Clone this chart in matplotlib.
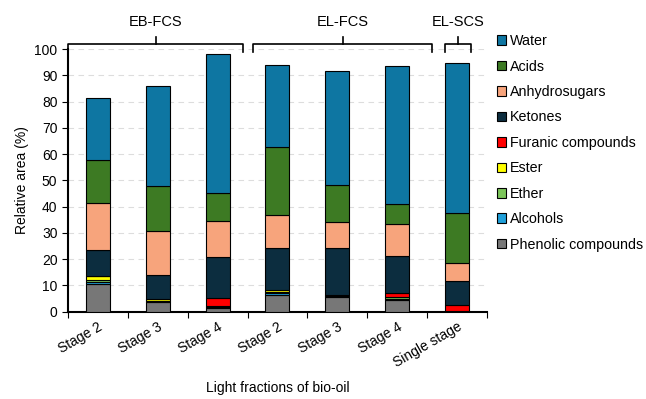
import matplotlib
matplotlib.use("Agg")
import matplotlib.pyplot as plt
import numpy as np

plt.rcParams['font.family'] = ['Liberation Sans', 'DejaVu Sans']

categories = ['Stage 2', 'Stage 3', 'Stage 4', 'Stage 2', 'Stage 3', 'Stage 4', 'Single stage']

# stacked from bottom to top
phenolic = [10.4, 3.6, 1.3, 6.5, 5.6, 4.3, 0.3]
alcohols = [0.9, 0.3, 0.5, 0.6, 0.3, 0.6, 0.0]
ether = [0.6, 0.2, 0.4, 0.3, 0.3, 0.5, 0.0]
ester = [1.6, 0.6, 0.0, 0.7, 0.3, 0.0, 0.0]
furanic = [0.0, 0.0, 2.8, 0.0, 0.0, 1.7, 2.3]
ketones = [9.8, 9.3, 15.8, 16.2, 17.6, 13.9, 9.2]
anhydro = [17.9, 16.6, 13.8, 12.4, 9.9, 12.2, 6.6]
acids = [16.5, 17.1, 10.6, 26.1, 14.2, 7.8, 19.1]
water = [23.8, 38.2, 53.0, 31.2, 43.6, 52.5, 57.3]

series = [
    ('Phenolic compounds', phenolic, '#777777'),
    ('Alcohols', alcohols, '#1f9fd9'),
    ('Ether', ether, '#7cc55a'),
    ('Ester', ester, '#ffff00'),
    ('Furanic compounds', furanic, '#ff0000'),
    ('Ketones', ketones, '#0c2d3f'),
    ('Anhydrosugars', anhydro, '#f7a47c'),
    ('Acids', acids, '#3d7a23'),
    ('Water', water, '#0e76a2'),
]

groups = [('EB-FCS', -0.5, 2.43), ('EL-FCS', 2.6, 5.58), ('EL-SCS', 5.8, 6.23)]

fig = plt.figure(figsize=(6.46, 3.99), dpi=100)
ax = fig.add_axes([0.105, 0.219, 0.649, 0.658])

x = np.arange(len(categories))
bottom = np.zeros(len(categories))
handles = []
for name, vals, color in series:
    b = ax.bar(x, vals, 0.4, bottom=bottom, color=color, edgecolor='black',
               linewidth=0.8, label=name, zorder=3)
    handles.append(b)
    bottom += np.array(vals)

ax.set_xlim(-0.5, 6.5)
ax.set_ylim(0, 100)
ax.set_yticks(range(0, 101, 10))
ax.yaxis.grid(True, linestyle=(0, (5, 4)), color='#dddddd', linewidth=0.8, zorder=0)
ax.set_xticks(np.arange(-0.5, 7, 1), minor=False)
ax.set_xticklabels([])
ax.set_xticks(x, minor=True)
ax.set_xticklabels(categories, minor=True, rotation=30, ha='right', fontsize=10,
                   rotation_mode='anchor')
ax.tick_params(axis='x', which='minor', length=0, pad=6)
ax.tick_params(axis='x', which='major', length=4, direction='out')
ax.tick_params(axis='y', labelsize=10, length=4)
for s in ['top', 'right']:
    ax.spines[s].set_visible(False)
ax.spines['left'].set_linewidth(1.5)
ax.spines['bottom'].set_linewidth(1.5)

ax.set_ylabel('Relative area (%)', fontsize=10)
fig.text(0.43, 0.028, 'Light fractions of bio-oil', ha='center', va='center', fontsize=10)

tr = ax.get_xaxis_transform()
for label, x0, x1 in groups:
    xc = (x0 + x1) / 2
    ax.plot([x0, x0, x1, x1], [0.99, 1.018, 1.018, 0.99], color='black', lw=1.2,
            transform=tr, clip_on=False)
    ax.plot([xc, xc], [1.018, 1.045], color='black', lw=1.2, transform=tr, clip_on=False)
    ax.text(xc, 1.105, label, transform=tr, ha='center', va='center', fontsize=10.5)

leg = ax.legend(handles[::-1], [s[0] for s in series][::-1], loc='upper left',
                bbox_to_anchor=(1.0, 1.095), frameon=False, fontsize=10.3,
                handlelength=0.65, handleheight=0.65, handletextpad=0.25,
                labelspacing=0.8, borderaxespad=0.3)

fig.savefig('out.png', dpi=100)
